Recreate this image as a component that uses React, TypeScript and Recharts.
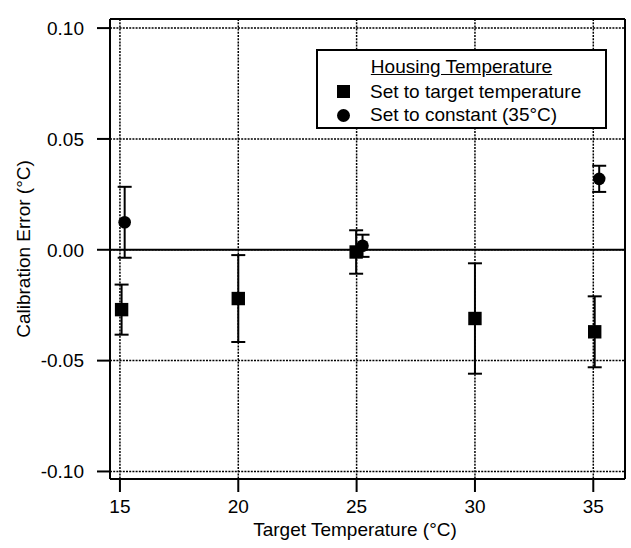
import React from 'react';
import { ScatterChart, Scatter, XAxis, YAxis, CartesianGrid, ErrorBar, ReferenceLine } from 'recharts';

const squareX = [15.07, 20.0, 24.98, 30.0, 35.06];
const squareY = [-0.027, -0.022, -0.001, -0.031, -0.037];
const squareErr = [0.0113, 0.0196, 0.0098, 0.0249, 0.016];
const circleX = [15.2, 25.25, 35.25];
const circleY = [0.0124, 0.0018, 0.032];
const circleErr = [0.016, 0.005, 0.0059];
const xTicks = [15, 20, 25, 30, 35];
const yTicks = [-0.1, -0.05, 0, 0.05, 0.1];
const xDomain = [14.58, 36.34];
const yDomain = [-0.1034, 0.1041];
const seriesNames = ['Set to target temperature', 'Set to constant (35°C)'];
const legendTitle = 'Housing Temperature';
const xTitle = 'Target Temperature (°C)';
const yTitle = 'Calibration Error (°C)';

const squareData = squareX.map((x, i) => ({ x, y: squareY[i], err: squareErr[i] }));
const circleData = circleX.map((x, i) => ({ x, y: circleY[i], err: circleErr[i] }));

const FONT = '"Liberation Sans", Arial, sans-serif';
const FS = 19;

const SquareShape = (props: any) => {
  const { cx, cy } = props;
  return <rect x={cx - 6.7} y={cy - 6.7} width={13.4} height={13.4} fill="#000" />;
};
const CircleShape = (props: any) => {
  const { cx, cy } = props;
  return <circle cx={cx} cy={cy} r={6.3} fill="#000" />;
};

const tickStyle = { fill: '#000', fontSize: FS, fontFamily: FONT };
const axisLine = { stroke: '#000', strokeWidth: 2 };
const tickLine = { stroke: '#000', strokeWidth: 2 };

export default function App() {
  return (
    <div style={{ position: 'absolute', left: 0, top: 0, width: 631, height: 548, background: '#fff', fontFamily: FONT }}>
      <ScatterChart width={631} height={548} margin={{ top: 0, right: 0, bottom: 0, left: 0 }}>
        <CartesianGrid stroke="#000" strokeWidth={1.5} strokeDasharray="2 1.2" />
        <XAxis
          type="number"
          dataKey="x"
          domain={xDomain}
          ticks={xTicks}
          allowDataOverflow
          height={69}
          tickSize={13}
          tickMargin={8}
          axisLine={axisLine}
          tickLine={tickLine}
          tick={tickStyle}
          label={{
            content: () => (
              <text x={355} y={536} textAnchor="middle" fontSize={FS} fontFamily={FONT} fill="#000">
                {xTitle}
              </text>
            ),
          }}
        />
        <XAxis
          xAxisId="top"
          orientation="top"
          type="number"
          domain={xDomain}
          ticks={xTicks}
          allowDataOverflow
          height={19}
          tickSize={14}
          axisLine={axisLine}
          tickLine={tickLine}
          tick={false}
        />
        <YAxis
          type="number"
          dataKey="y"
          domain={yDomain}
          ticks={yTicks}
          allowDataOverflow
          width={110}
          tickSize={13}
          tickMargin={13}
          axisLine={axisLine}
          tickLine={tickLine}
          tick={tickStyle}
          tickFormatter={(v: number) => v.toFixed(2)}
          label={{
            content: () => (
              <text
                x={30}
                y={249}
                transform="rotate(-90 30 249)"
                textAnchor="middle"
                fontSize={FS}
                fontFamily={FONT}
                fill="#000"
              >
                {yTitle}
              </text>
            ),
          }}
        />
        <YAxis
          yAxisId="right"
          orientation="right"
          type="number"
          domain={yDomain}
          ticks={yTicks}
          allowDataOverflow
          width={6}
          tickSize={13}
          axisLine={axisLine}
          tickLine={tickLine}
          tick={false}
        />
        <ReferenceLine y={0} stroke="#000" strokeWidth={2} />
        <Scatter name={seriesNames[0]} data={squareData} shape={SquareShape} isAnimationActive={false}>
          <ErrorBar dataKey="err" direction="y" width={7} stroke="#000" strokeWidth={2} isAnimationActive={false} />
        </Scatter>
        <Scatter name={seriesNames[1]} data={circleData} shape={CircleShape} isAnimationActive={false}>
          <ErrorBar dataKey="err" direction="y" width={7} stroke="#000" strokeWidth={2} isAnimationActive={false} />
        </Scatter>
      </ScatterChart>
      <div
        style={{
          position: 'absolute',
          left: 316,
          top: 49,
          width: 291,
          height: 80,
          boxSizing: 'border-box',
          border: '2px solid #000',
          background: '#fff',
          fontSize: FS,
          fontFamily: FONT,
          color: '#000',
        }}
      >
        <div style={{ position: 'absolute', left: 0, right: 0, top: 4.7, lineHeight: '22px', textAlign: 'center', textDecoration: 'underline' }}>
          {legendTitle}
        </div>
        <div style={{ position: 'absolute', left: 18.5, top: 34.2, width: 13, height: 13, background: '#000' }} />
        <div style={{ position: 'absolute', left: 52, top: 29.7, lineHeight: '22px', whiteSpace: 'nowrap' }}>{seriesNames[0]}</div>
        <div style={{ position: 'absolute', left: 18.5, top: 57.5, width: 13, height: 13, background: '#000', borderRadius: '50%' }} />
        <div style={{ position: 'absolute', left: 52, top: 53, lineHeight: '22px', whiteSpace: 'nowrap' }}>{seriesNames[1]}</div>
      </div>
    </div>
  );
}
